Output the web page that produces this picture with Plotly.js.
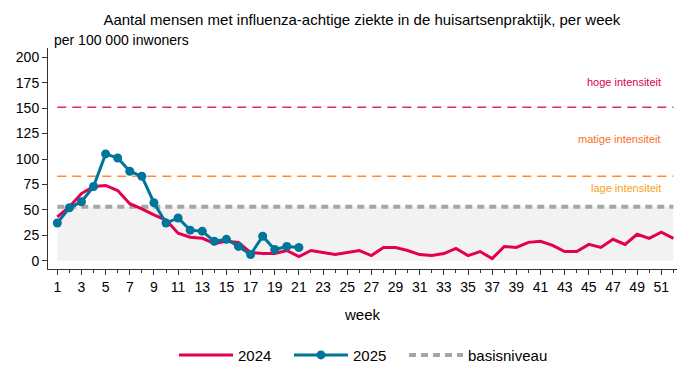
<!DOCTYPE html>
<html>
<head>
<meta charset="utf-8">
<script src="https://cdn.plot.ly/plotly-3.0.1.min.js"></script>
<style>html,body{margin:0;padding:0;background:#fff;}#chart{width:684px;height:378px;}</style>
</head>
<body>
<div id="chart"></div>
<script>
// ---- data ----
var weeks = [];
for (var i = 1; i <= 52; i++) weeks.push(i);
var weeks2025 = [1,2,3,4,5,6,7,8,9,10,11,12,13,14,15,16,17,18,19,20,21];
var values2024 = [43,53,66,73,74,69,56,51,45,40,27,23,22,17,19,18,8,7,7,10,4,10,8,6,8,10,5,13,13,10,6,5,7,12,5,9,2,14,13,18,19,15,9,9,16,13,21,16,26,22,28,22];
var values2025 = [37,52,58,73,105,101,88,83,57,37,42,30,29,19,21,14,6,24,11,14,13];
var basisValue = 53;
var lageThreshold = 83;
var hogeThreshold = 151;
var basisLine = weeks.map(function(){ return basisValue; });
var xTickLabels = ['1','3','5','7','9','11','13','15','17','19','21','23','25','27','29','31','33','35','37','39','41','43','45','47','49','51'];
var xTickVals = xTickLabels.map(Number);
var yTickVals = [0,25,50,75,100,125,150,175,200];
var intensityLabels = ['hoge intensiteit','matige intensiteit','lage intensiteit'];
var intensityLabelY = [176,120,71];

var FONT = 'Liberation Sans, Arial, sans-serif';
var C2024 = '#e4004f', C2025 = '#00749a';

var traces = [
  {x: weeks, y: basisLine, type:'scatter', mode:'lines', fill:'tozeroy', fillcolor:'#f2f2f2',
   line:{width:0, color:'rgba(0,0,0,0)'}, showlegend:false, hoverinfo:'skip'},
  {x: weeks, y: basisLine, type:'scatter', mode:'lines', name:'basisniveau', legend:'legend3',
   line:{color:'#a6a6a6', width:4, dash:'7px,5px'}},
  {x: weeks, y: values2024, type:'scatter', mode:'lines', name:'2024', legend:'legend',
   line:{color:C2024, width:3}},
  {x: weeks2025, y: values2025, type:'scatter', mode:'lines+markers', name:'2025', legend:'legend2',
   line:{color:C2025, width:3}, marker:{color:C2025, size:9}}
];

var shapes = [
  {type:'line', xref:'x', yref:'y', x0:1, x1:52, y0:lageThreshold, y1:lageThreshold,
   line:{color:'#ff8a30', width:1.5, dash:'9px,6px'}, layer:'below'},
  {type:'line', xref:'x', yref:'y', x0:1, x1:52, y0:hogeThreshold, y1:hogeThreshold,
   line:{color:'#e02a62', width:1.5, dash:'9px,6px'}, layer:'below'}
];

var labelColors = ['#d8004e','#f7701f','#f5a124'];
var annotations = intensityLabels.map(function(t, k){
  return {text:t, xref:'x', yref:'y', x:51.1, y:intensityLabelY[k], xanchor:'right', yanchor:'middle',
          showarrow:false, font:{family:FONT, size:11, color:labelColors[k]}};
});
annotations.push({text:'per 100 000 inwoners', xref:'paper', yref:'paper', x:0.006, y:1.036,
  xanchor:'left', yanchor:'middle', showarrow:false, font:{family:FONT, size:14, color:'#000'}});

function legendAt(xp) {
  return {orientation:'h', x:xp, xanchor:'left', y:-0.39, yanchor:'middle', itemwidth:54,
          font:{family:FONT, size:15, color:'#000'}, bgcolor:'rgba(0,0,0,0)'};
}

var layout = {
  width:684, height:378,
  margin:{l:48, r:7, t:48, b:109},
  paper_bgcolor:'#fff', plot_bgcolor:'#fff',
  font:{family:FONT, size:14, color:'#000'},
  title:{text:'Aantal mensen met influenza-achtige ziekte in de huisartsenpraktijk, per week',
         x:0.499, xref:'paper', xanchor:'center', y:1-20/378, yref:'container', yanchor:'middle',
         font:{family:FONT, size:15, color:'#000'}},
  xaxis:{range:[0.23,52.3], tickmode:'array', tickvals:xTickVals, ticktext:xTickLabels,
         ticks:'outside', ticklen:5, tickcolor:'#333', showline:true, linecolor:'#333', linewidth:1,
         showgrid:false, zeroline:false, ticklabelstandoff:0,
         minor:{tickmode:'linear', tick0:0, dtick:1, ticks:'outside', ticklen:3, tickcolor:'#333', showgrid:false},
         tickfont:{family:FONT, size:14, color:'#000'},
         title:{text:'week', font:{family:FONT, size:15, color:'#000'}, standoff:15}},
  yaxis:{range:[-8.2,209.2], tickmode:'array', tickvals:yTickVals, ticks:'outside', ticklen:5, tickcolor:'#333',
         showline:true, linecolor:'#333', linewidth:1, showgrid:false, zeroline:false,
         tickfont:{family:FONT, size:14, color:'#000'}},
  legend:legendAt(0.2003),
  legend2:legendAt(0.3831),
  legend3:legendAt(0.566),
  shapes:shapes,
  annotations:annotations,
  showlegend:true
};

Plotly.newPlot('chart', traces, layout, {displayModeBar:false, staticPlot:true});
</script>
</body>
</html>
